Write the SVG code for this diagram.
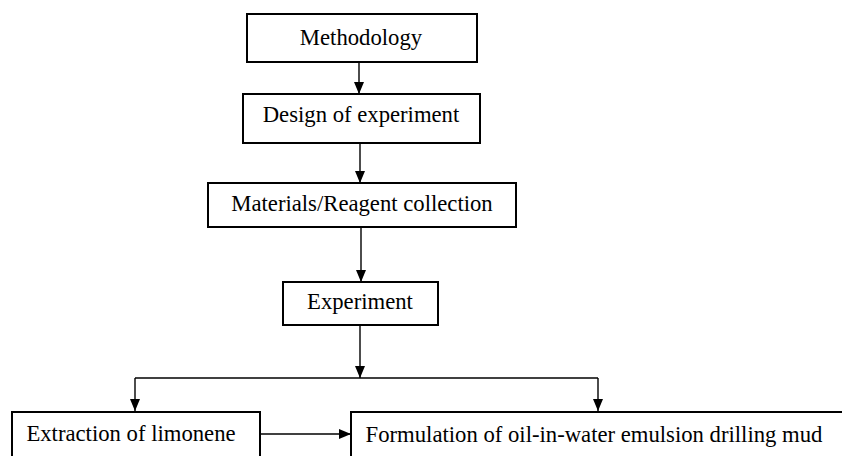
<svg xmlns="http://www.w3.org/2000/svg" width="842" height="456" viewBox="0 0 842 456">
<style>
.box{fill:#fff;stroke:#000;stroke-width:2}
.t{font-family:"Liberation Serif","Times New Roman",serif;font-size:22.7px;fill:#000;text-anchor:middle}
.c{fill:none;stroke:#000;stroke-width:1.4}
</style>
<defs>
<marker id="ah" viewBox="0 0 12 10" refX="12" refY="5" markerWidth="12" markerHeight="10" markerUnits="userSpaceOnUse" orient="auto">
<path d="M0,0 L12,5 L0,10 Z" fill="#000"/>
</marker>
</defs>
<rect width="842" height="456" fill="#fff"/>
<g id="connectors">
<line class="c" x1="359" y1="62" x2="359" y2="94" marker-end="url(#ah)"/>
<line class="c" x1="360" y1="143" x2="360" y2="183" marker-end="url(#ah)"/>
<line class="c" x1="361" y1="227" x2="361" y2="282" marker-end="url(#ah)"/>
<line class="c" x1="360" y1="325" x2="360" y2="378" marker-end="url(#ah)"/>
<path class="c" d="M135,378 H598"/>
<line class="c" x1="135" y1="378" x2="135" y2="411" marker-end="url(#ah)"/>
<line class="c" x1="598" y1="378" x2="598" y2="411" marker-end="url(#ah)"/>
<line class="c" x1="260" y1="434" x2="351" y2="434" marker-end="url(#ah)"/>
</g>
<g id="n1"><rect class="box" x="247" y="14" width="230" height="48"/><text class="t" x="361" y="45">Methodology</text></g>
<g id="n2"><rect class="box" x="243" y="94" width="237" height="49"/><text class="t" x="361" y="122">Design of experiment</text></g>
<g id="n3"><rect class="box" x="208" y="183" width="308" height="44"/><text class="t" x="362" y="211">Materials/Reagent collection</text></g>
<g id="n4"><rect class="box" x="283" y="282" width="155" height="43"/><text class="t" x="360" y="309">Experiment</text></g>
<g id="n5"><rect class="box" x="12" y="412" width="248" height="50"/><text class="t" x="131" y="441">Extraction of limonene</text></g>
<g id="n6"><rect class="box" x="351" y="412" width="500" height="50"/><text class="t" x="594" y="442">Formulation of oil-in-water emulsion drilling mud</text></g>
</svg>
